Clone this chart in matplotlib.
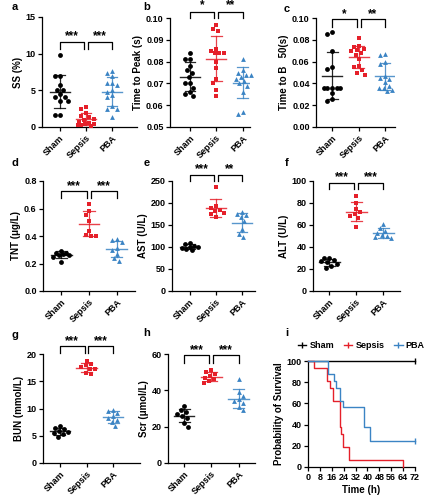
import numpy as np
import matplotlib
matplotlib.use("Agg")
import matplotlib.pyplot as plt
from matplotlib.lines import Line2D
from matplotlib.ticker import FormatStrFormatter
from matplotlib.transforms import offset_copy

plt.rcParams["font.family"] = ["Liberation Sans", "DejaVu Sans"]
plt.rcParams["font.weight"] = "bold"
plt.rcParams["axes.labelweight"] = "bold"

W, H = 434, 500

GROUPS = ["Sham", "Sepsis", "PBA"]
COLORS = ["#000000", "#E5202A", "#3B84C4"]
MARKERS = ["o", "s", "^"]

# --- group values ---
ss_sham = [9.8, 6.9, 6.9, 5.7, 5.1, 5.1, 4.5, 4.1, 4.1, 3.5, 3.5, 1.7, 1.7]
ss_sepsis = [2.7, 2.4, 1.9, 1.5, 1.3, 1.1, 0.9, 0.7, 0.5, 0.4, 0.4, 0.3, 0.3, 0.2]
ss_pba = [7.7, 7.4, 7.0, 6.0, 6.0, 5.7, 5.1, 4.8, 4.3, 4.1, 2.8, 2.5, 2.5, 1.4]

ttp_sham = [0.084, 0.081, 0.081, 0.078, 0.076, 0.075, 0.073, 0.070, 0.070, 0.068, 0.066, 0.065, 0.064]
ttp_sepsis = [0.097, 0.095, 0.094, 0.086, 0.085, 0.084, 0.084, 0.084, 0.080, 0.077, 0.072, 0.070, 0.067, 0.064]
ttp_pba = [0.081, 0.076, 0.075, 0.074, 0.074, 0.073, 0.072, 0.071, 0.070, 0.069, 0.066, 0.057, 0.056]

tb_sham = [0.087, 0.085, 0.070, 0.055, 0.053, 0.036, 0.036, 0.036, 0.036, 0.036, 0.031, 0.026, 0.024]
tb_sepsis = [0.082, 0.074, 0.073, 0.072, 0.071, 0.070, 0.068, 0.066, 0.062, 0.056, 0.055, 0.052, 0.050, 0.048]
tb_pba = [0.067, 0.066, 0.060, 0.058, 0.047, 0.045, 0.044, 0.041, 0.038, 0.036, 0.036, 0.034, 0.033]

tnt_sham = [0.29, 0.28, 0.28, 0.27, 0.26, 0.26, 0.25, 0.21]
tnt_sepsis = [0.63, 0.58, 0.55, 0.51, 0.44, 0.41, 0.40, 0.40]
tnt_pba = [0.38, 0.37, 0.36, 0.31, 0.30, 0.27, 0.24, 0.22]

ast_sham = [110, 106, 102, 101, 99, 97, 96, 93]
ast_sepsis = [236, 194, 188, 185, 182, 178, 175, 168]
ast_pba = [180, 175, 172, 168, 158, 140, 130, 122]

alt_sham = [30, 30, 28, 27, 26, 25, 23, 21]
alt_sepsis = [86, 80, 75, 72, 70, 68, 66, 58]
alt_pba = [61, 57, 55, 53, 51, 50, 49, 48]

bun_sham = [6.8, 6.4, 6.2, 5.9, 5.7, 5.5, 5.3, 4.8]
bun_sepsis = [18.8, 18.2, 17.9, 17.6, 17.3, 17.2, 16.6, 16.3]
bun_pba = [9.8, 9.5, 9.2, 8.6, 8.2, 7.9, 7.6, 6.8]

scr_sham = [31.5, 29, 28, 27, 26, 25, 22, 20]
scr_sepsis = [51, 50, 49, 48, 47, 46, 45, 44]
scr_pba = [46, 39, 37, 35, 34, 33, 31, 29]

# --- survival curves (step points) ---
km_sham_t = [0, 72]
km_sham_s = [100, 100]
km_sepsis_t = [0, 4, 13, 15, 17, 21.5, 22.5, 23.5, 27.5, 64]
km_sepsis_s = [100, 93.75, 81.25, 75, 62.5, 37.5, 31.25, 18.75, 6.25, 0]
km_pba_t = [0, 13.5, 17.3, 19, 21.8, 23.6, 37.6, 41.7, 72]
km_pba_s = [100, 87.5, 81.25, 75, 62.5, 56.25, 37.5, 25, 25]


def rect(l, r, t, b):
    return [l / W, 1 - b / H, (r - l) / W, (b - t) / H]


def swarm_offsets(values, px_per_unit, px_per_cat, diam=5.0, max_px=8.5):
    # simple beeswarm in pixel space, capped width (points may overlap a bit)
    values = np.asarray(values, dtype=float)
    order = np.argsort(-values, kind="stable")
    cands = [0.0]
    k = 1
    while k * 1.0 <= max_px:
        cands += [-k * 1.0, k * 1.0] if k % 2 else [k * 1.0, -k * 1.0]
        k += 1
    placed = []
    offs = np.zeros(len(values))
    for i in order:
        y = values[i] * px_per_unit
        best, best_d = 0.0, -1.0
        for c in cands:
            d = min([np.hypot(c - px, y - py) for px, py in placed] or [99.0])
            if d >= diam:
                best = c
                break
            if d > best_d + 0.3:
                best, best_d = c, d
        placed.append((best, y))
        offs[i] = best / px_per_cat
    return offs


panels = [
    dict(letter="a", data=[ss_sham, ss_sepsis, ss_pba], ylabel="SS (%)",
         ylim=(0, 15), yticks=[0, 5, 10, 15], fmt="%d", xlim=(-0.67, 2.95),
         box=(42, 137, 17, 127), br=(11.6, 10.6, 12.7), stars=("***", "***")),
    dict(letter="b", data=[ttp_sham, ttp_sepsis, ttp_pba], ylabel="Time to Peak (s)",
         ylim=(0.05, 0.10), yticks=np.arange(0.05, 0.1001, 0.01), fmt="%.2f", xlim=(-0.76, 2.28),
         box=(170, 250, 18, 127), br=(0.1026, 0.1000, 0.1068), stars=("*", "**")),
    dict(letter="c", data=[tb_sham, tb_sepsis, tb_pba], ylabel="Time to B   50(s)",
         ylim=(0, 0.10), yticks=np.arange(0, 0.1001, 0.02), fmt="%.2f", xlim=(-0.62, 2.38),
         box=(316, 395, 18, 127), br=(0.0995, 0.092, 0.1055), stars=("*", "**")),
    dict(letter="d", data=[tnt_sham, tnt_sepsis, tnt_pba], ylabel="TNT (μg/L)",
         ylim=(0, 0.8), yticks=np.arange(0, 0.801, 0.2), fmt="%.1f", xlim=(-0.67, 2.67),
         box=(43, 135, 181, 291), br=(0.727, 0.675, 0.78), stars=("***", "***")),
    dict(letter="e", data=[ast_sham, ast_sepsis, ast_pba], ylabel="AST (U/L)",
         ylim=(0, 250), yticks=np.arange(0, 251, 50), fmt="%d", xlim=(-0.67, 2.5),
         box=(172, 255, 181, 291), br=(263, 251, 282), stars=("***", "**")),
    dict(letter="f", data=[alt_sham, alt_sepsis, alt_pba], ylabel="ALT (U/L)",
         ylim=(0, 100), yticks=np.arange(0, 101, 20), fmt="%d", xlim=(-0.61, 2.62),
         box=(313, 400, 181, 291), br=(98.5, 92.4, 105), stars=("***", "***")),
    dict(letter="g", data=[bun_sham, bun_sepsis, bun_pba], ylabel="BUN (mmol/L)",
         ylim=(0, 20), yticks=np.arange(0, 21, 5), fmt="%d", xlim=(-0.63, 3.0),
         box=(43, 140, 354, 463), br=(21.5, 20.1, 22.7), stars=("***", "***")),
    dict(letter="h", data=[scr_sham, scr_sepsis, scr_pba], ylabel="Scr (μmol/L)",
         ylim=(0, 60), yticks=np.arange(0, 61, 20), fmt="%d", xlim=(-0.59, 2.6),
         box=(168, 255, 354, 463), br=(59.5, 55.3, 63), stars=("***", "***")),
]

fig = plt.figure(figsize=(W / 100, H / 100), dpi=100)
fig.patch.set_facecolor("white")

LW = 0.9


def style_axes(ax):
    for spine in ("top", "right"):
        ax.spines[spine].set_visible(False)
    for spine in ("left", "bottom"):
        ax.spines[spine].set_linewidth(LW)
    ax.tick_params(length=3, width=LW, labelsize=6.5, pad=1.5)


for p in panels:
    l, r, t, b = p["box"]
    ax = fig.add_axes(rect(l, r, t, b))
    style_axes(ax)
    ax.set_xlim(*p["xlim"])
    ax.set_ylim(*p["ylim"])
    px_per_unit = (b - t) / (p["ylim"][1] - p["ylim"][0])
    px_per_cat = (r - l) / (p["xlim"][1] - p["xlim"][0])

    for gi, vals in enumerate(p["data"]):
        offs = swarm_offsets(vals, px_per_unit, px_per_cat)
        ax.scatter(gi + offs, vals, s=12, marker=MARKERS[gi], color=COLORS[gi],
                   linewidths=0, zorder=3, clip_on=False)
        m = np.mean(vals)
        sd = np.std(vals, ddof=1)
        ec = COLORS[gi]
        ax.plot([gi - 0.38, gi + 0.38], [m, m], color=ec, lw=1.0, zorder=4, alpha=0.85)
        ax.plot([gi, gi], [m - sd, m + sd], color=ec, lw=0.9, zorder=4, alpha=0.85)
        for yv in (m - sd, m + sd):
            ax.plot([gi - 0.2, gi + 0.2], [yv, yv], color=ec, lw=0.9, zorder=4, alpha=0.85)

    ax.set_xticks(range(3))
    ax.set_xticklabels(GROUPS, rotation=45, ha="right", rotation_mode="anchor")
    ax.set_yticks(p["yticks"])
    ax.yaxis.set_major_formatter(FormatStrFormatter(p["fmt"]))
    ax.set_ylabel(p["ylabel"], fontsize=7, labelpad=2)

    y_bar, y_leg, y_star = p["br"]
    star_tr = offset_copy(ax.transData, fig=fig, y=-5, units="dots")
    for (x0, x1), star in zip([(0, 0.93), (1.07, 2)], p["stars"]):
        ax.plot([x0, x0, x1, x1], [y_leg, y_bar, y_bar, y_leg], color="black",
                lw=LW, clip_on=False)
        ax.text((x0 + x1) / 2, y_star, star, ha="center", va="baseline",
                fontsize=8.5, fontweight="bold", transform=star_tr)

# --- survival panel ---
ax = fig.add_axes(rect(308, 415, 361, 467))
style_axes(ax)
km = [(km_sham_t, km_sham_s), (km_sepsis_t, km_sepsis_s), (km_pba_t, km_pba_s)]
for gi, (tt, ss) in enumerate(km):
    ax.step(tt, ss, where="post", color=COLORS[gi], lw=1.0, clip_on=False, zorder=3)
    if ss[-1] > 0:
        ax.plot([tt[-1]], [ss[-1]], marker="|", ms=4, mew=1.0, color=COLORS[gi],
                clip_on=False, zorder=3)
ax.set_xlim(0, 72)
ax.set_ylim(0, 100)
ax.set_xticks(np.arange(0, 73, 8))
ax.set_yticks(np.arange(0, 101, 20))
ax.set_xlabel("Time (h)", fontsize=7, labelpad=2)
ax.set_ylabel("Probability of Survival", fontsize=7, labelpad=2)
handles = [Line2D([], [], color=c, lw=1.0, marker="|", ms=4, mew=1.0) for c in COLORS]
ax.legend(handles, GROUPS, loc="lower left", bbox_to_anchor=(-0.09, 1.1), ncol=3,
          frameon=False, fontsize=6.5, handlelength=0.9, handletextpad=0.35,
          columnspacing=1.1, borderaxespad=0, borderpad=0)

for letter, (x, y) in zip("abcdefghi", [(15, 7), (147, 7), (287, 9), (15, 163), (147, 163),
                                        (287, 163), (15, 335), (147, 333), (287, 333)]):
    fig.text(x / W, 1 - y / H, letter, fontsize=8, fontweight="bold", ha="center", va="center")

fig.savefig("out.png", dpi=100, facecolor="white")
